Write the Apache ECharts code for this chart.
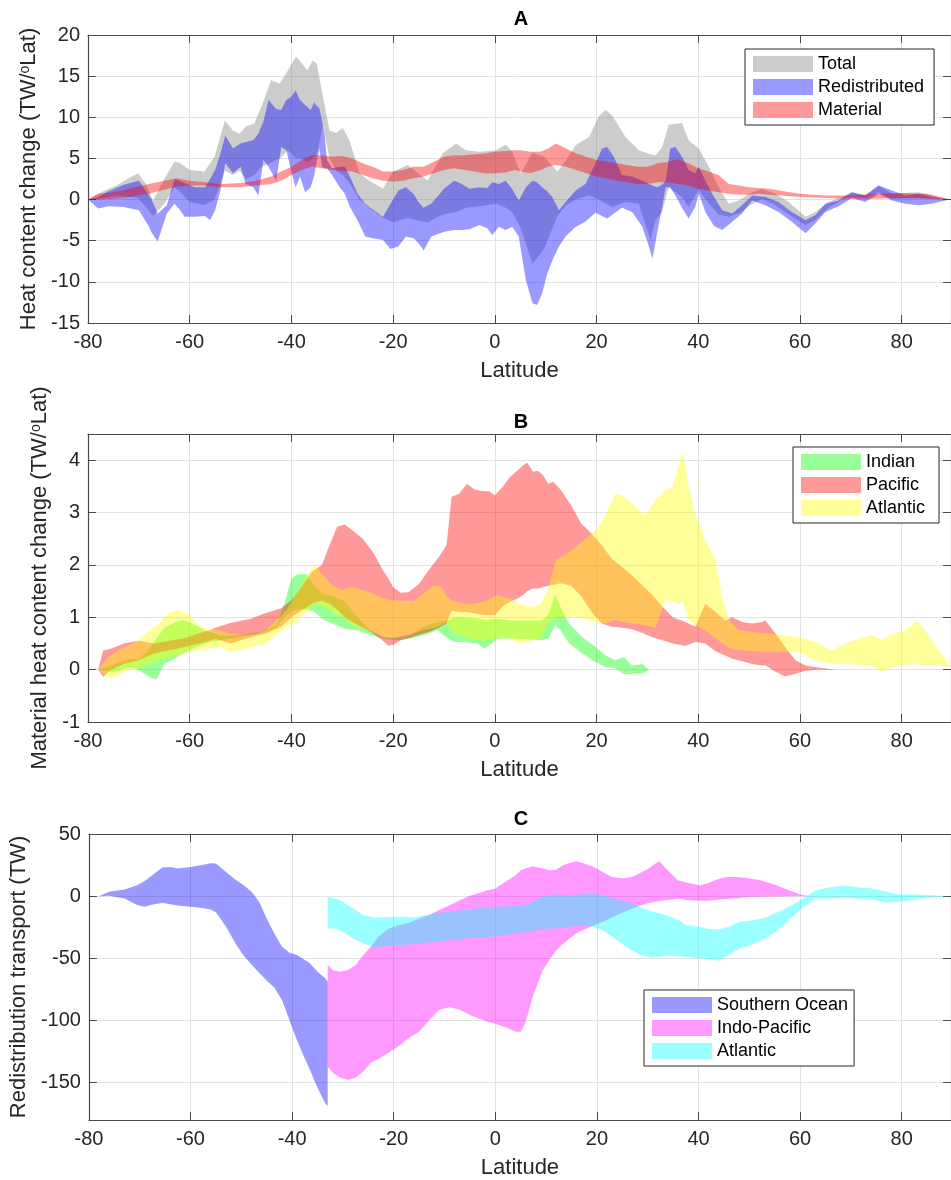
<!DOCTYPE html>
<html>
<head>
<meta charset="utf-8">
<script src="https://cdn.jsdelivr.net/npm/echarts@6/dist/echarts.min.js"></script>
<style>
  html, body { margin: 0; padding: 0; background: #fff; }
  #chart { width: 951px; height: 1180px; }
</style>
</head>
<body>
<div id="chart"></div>
<script>
// ---- Panel A: heat content change (TW/degLat) ----
const latTotal = [-80,-77,-74.4,-72,-70.2,-68.5,-67.2,-65,-63,-62,-60,-57.1,-55.1,-53.1,-51.5,-50.2,-48.9,-47.3,-45.9,-44,-42.3,-40.7,-39.1,-38.1,-36.9,-35.8,-35,-33.8,-32.5,-31.2,-29.9,-28.6,-26.6,-24.7,-22,-20,-17.1,-15.5,-13.2,-10.3,-7.6,-5.7,-3,0.2,2.2,3.4,5.1,7.4,9.7,12.3,14,15.9,18.5,20.5,21.8,23.1,25.7,28.3,30.6,31.6,32.9,34.2,36.8,38.1,40.1,42.1,44,46,48,49.9,52.5,55.2,57.8,61.1,63,65.6,68.9,70.2,72.8,75.4,78.1,83.3,89.5];
const totalHi = [0,1.0,1.7,2.6,3.2,1.8,-0.1,2.5,4.6,4.5,3.6,3.4,5.2,9.6,8.4,8.0,8.9,9.2,11.3,14.5,14.1,15.7,17.4,16.7,15.7,16.9,16.5,12.5,8.4,8.1,8.7,7.2,3.2,2.3,1.3,3.4,4.2,3.4,2.3,5.6,6.8,6.0,5.8,6.0,6.7,5.8,3.2,5.7,5.2,3.4,4.8,6.6,7.6,10.2,10.9,10.2,7.6,6.0,5.5,5.4,6.4,9.1,9.3,7.2,6.2,4.0,1.5,-0.5,-0.1,0.7,1.3,0.7,-0.3,-2.1,-1.5,-0.3,0.5,0.9,0.5,1.7,0.7,0.9,0];
const totalLo = [0,0.2,0.5,0.3,0.2,-1.0,-2.0,-0.5,1.5,1.0,-0.3,-0.7,0.0,3.5,3.0,3.5,2.5,3.0,4.0,4.5,5.0,6.0,5.0,5.0,4.5,5.0,5.5,9.0,5.0,3.5,3.0,2.0,0.0,-1.0,-2.2,-2.8,-2.2,-2.5,-2.8,-1.8,-1.5,-1.0,-0.8,-0.5,-1.0,-1.5,-3.5,-7.8,-6.0,-2.0,-0.7,0.0,0.5,0.0,-0.5,-0.9,-0.3,-0.5,-4.9,-2.5,-1.5,1.5,0.3,-0.9,1.2,-0.5,-1.8,-2.1,-1.7,-0.8,0.1,-0.7,-1.8,-3.1,-2.5,-1.0,0.2,0.4,0.2,0.9,0.1,0.2,0];

const latRedis = [-80,-78,-76,-73,-70,-68,-67.5,-66.3,-64.5,-63,-62,-61,-59,-57,-56,-55,-54,-53,-51.5,-50,-49,-47.5,-46.5,-45.5,-44.5,-43,-42,-41,-40,-39.2,-38.3,-37.3,-36.2,-35.5,-35.2,-34.5,-34,-33.5,-33,-32,-30.5,-29.5,-28.5,-27,-25.5,-24,-22,-20.5,-19,-17.5,-16,-15,-14,-12.5,-10,-8,-6.5,-5,-3,-1.5,-0.5,0.8,2.1,3.4,4.7,6.1,7.4,8.3,9.3,10.3,11.3,12.6,13.9,15.9,17.8,19.8,21.1,22.1,23.4,25,27,29,30.3,31,31.9,32.9,33.6,34.5,35.5,36.8,38.1,39.4,40.1,41.4,43.1,44.7,46.7,48.6,50.6,53.2,55.8,58.4,61.1,63,65,67.6,70.2,72.8,75.5,78.1,80.7,83.3,85.9,89.5];
const redisHi = [0,0.3,1.0,1.8,2.3,0.5,0,-1.7,-0.7,2.5,2.3,2.0,1.5,1.5,2.5,3.6,5.5,7.8,6.2,6.8,7.0,7.2,8.0,9.5,12.1,11.0,10.9,12.1,12.5,13.3,12.1,11.5,10.9,11.9,11.5,11.1,9.6,8.0,4.8,3.8,4.0,4.0,2.8,0.7,-0.5,-1.2,-2.1,-0.5,1.1,1.5,0.7,-0.3,-1.0,-0.5,1.3,2.3,1.9,1.3,1.5,1.4,2.1,1.9,2.3,1.3,-0.1,1.5,2.3,2.1,1.5,1.0,0.3,-1.3,-0.3,1.1,1.9,4.4,6.2,6.4,5.2,3.0,2.8,2.3,1.9,1.7,1.5,1.8,2.3,6.2,6.4,5.2,3.6,3.2,4.0,2.3,0.3,-1.3,-1.7,-0.7,0.5,0.3,-0.3,-1.5,-2.5,-1.9,-0.5,-0.1,0.9,0.5,1.7,1.1,0.5,0.7,0.3,0];
const redisLo = [0,-1.1,-0.8,-0.9,-1.3,-3.3,-4.0,-5.1,-1.7,-0.5,-1.2,-2.1,-2.1,-2.0,-2.5,-1.3,1.0,4.4,3.2,4.0,1.9,1.5,0.5,4.8,4.0,2.3,6.4,6.0,3.4,1.5,2.8,0.9,1.5,3.0,4.0,6.2,4.0,3.8,3.8,3.0,1.5,0.7,-0.9,-2.5,-4.5,-4.7,-4.9,-6.0,-5.7,-4.5,-4.7,-5.3,-6.2,-4.5,-3.9,-3.7,-3.7,-3.6,-3.1,-3.5,-4.3,-3.3,-3.7,-3.3,-4.5,-9.8,-12.6,-12.8,-11.4,-9.0,-7.4,-5.7,-4.5,-3.3,-2.7,-1.6,-2.0,-2.3,-1.7,-1.0,-1.5,-3.3,-5.7,-7.2,-4.1,-0.9,1.5,1.5,0.5,-1.0,-2.3,-0.9,0.7,-1.5,-3.2,-3.7,-2.7,-1.7,-0.1,-0.7,-1.5,-2.7,-4.1,-2.9,-1.5,-0.8,0.2,-0.3,0.7,-0.1,-0.5,-0.7,-0.5,0];

const latMaterial = [-80,-78,-75,-72,-68,-65,-62.5,-60,-57,-54,-50,-47,-44,-42,-40,-38,-36,-34,-32,-30,-28,-26,-24,-22,-20,-18,-16,-14,-12,-10,-8,-6,-4,-2,0,2,4,5,7,9,10.5,12,14,16,18,20,22,24,26,28,30,32,34,36,38,40,42,44,46,48,50,52,54,56,58,60,65,70,75,80,85,89.5];
const materialHi = [0,0.7,0.9,1.3,1.9,2.3,2.6,2.3,2.1,1.9,2.0,2.3,2.8,3.4,4.0,4.8,5.4,5.4,5.2,5.3,5.0,4.4,4.0,3.4,3.4,3.6,4.0,4.0,4.6,5.2,5.4,5.4,5.5,5.6,5.8,5.9,6.0,6.0,5.8,5.8,6.2,6.8,6.2,5.6,5.2,4.8,4.6,4.4,4.2,4.0,4.0,4.4,4.6,4.9,4.4,3.8,3.4,3.0,1.9,1.7,1.5,1.4,1.3,1.1,0.9,0.7,0.5,0.5,0.7,0.8,0.7,0];
const materialLo = [0,0,0.1,0.3,0.7,1.2,1.6,1.7,1.7,1.5,1.5,1.7,1.9,2.3,3.0,3.6,4.0,3.8,3.6,3.5,3.4,3.0,2.6,2.3,2.2,2.3,2.6,2.8,3.2,3.6,3.8,3.6,3.4,3.2,3.2,3.3,3.6,3.4,3.2,3.6,4.0,4.2,4.0,3.6,3.2,2.8,2.6,2.3,2.1,1.9,1.9,2.1,2.1,1.9,1.7,1.3,1.1,0.9,0.7,0.6,0.6,0.7,0.6,0.5,0.4,0.3,0.2,0.1,0.1,0.2,0.1,0];

// ---- Panel B: material heat content change by basin ----
const latIndian = [-78,-75,-72,-70,-68,-66.5,-65,-63,-61.5,-60,-57,-54,-50,-46,-43,-41.4,-40,-38.8,-37,-35.5,-34,-32,-29.5,-27,-24.5,-21.7,-19,-16.5,-14,-11.3,-9.3,-8,-6,-3.4,-2,0.5,3.4,6.1,9.3,10.6,11.9,12.9,14.6,17.2,19.8,21.8,23.7,25.4,27,29,30.3];
const indianHi = [0,0.1,0.2,0.2,0.4,0.6,0.8,0.9,0.95,0.9,0.75,0.65,0.66,0.72,0.85,1.26,1.74,1.82,1.82,1.6,1.45,1.4,1.3,1.0,0.75,0.62,0.62,0.66,0.82,0.91,0.94,1.0,1.0,0.98,0.95,0.97,0.94,0.94,0.94,1.07,1.45,1.2,0.88,0.62,0.43,0.27,0.18,0.24,0.08,0.11,0];
const indianLo = [0,-0.05,0.05,0.0,-0.14,-0.19,0.11,0.21,0.3,0.37,0.5,0.56,0.62,0.69,0.8,1.0,1.1,1.15,1.15,1.1,0.97,0.88,0.78,0.75,0.66,0.59,0.56,0.6,0.65,0.75,0.6,0.53,0.53,0.5,0.4,0.59,0.6,0.58,0.56,0.6,0.85,0.75,0.5,0.31,0.14,0.05,0.02,-0.09,-0.08,-0.08,0];

const latPacific = [-78,-77,-75.5,-73,-70,-67,-64,-61,-58,-56,-55,-52,-48,-45,-42,-40,-38,-36,-34,-32.5,-31,-29.5,-28,-26,-24,-22,-21,-20,-18.5,-17,-15,-13,-11,-9.5,-8.5,-7,-5.5,-4,-2.5,-1,0,1.5,3,4.5,5.5,6.4,7.5,8.5,9.5,10.5,11.5,13,15,17,19,21,23,25,27,29,31,33,35,37.5,39.4,41.4,43.4,45.3,46.7,48.6,50.6,52.5,53.2,55.2,57.1,59.1,61.1,63.7,67];
const pacificHi = [0,0.37,0.4,0.5,0.55,0.5,0.55,0.6,0.7,0.75,0.8,0.89,0.97,1.08,1.17,1.32,1.58,1.87,2.0,2.38,2.73,2.77,2.66,2.5,2.25,1.9,1.75,1.58,1.47,1.48,1.63,1.9,2.15,2.38,3.3,3.36,3.55,3.44,3.41,3.4,3.33,3.49,3.68,3.81,3.9,3.95,3.78,3.8,3.71,3.55,3.59,3.43,3.14,2.79,2.6,2.38,2.12,1.96,1.8,1.61,1.42,1.2,1.0,0.91,0.82,1.26,1.1,0.94,1.0,0.91,0.88,0.91,0.94,0.69,0.43,0.18,0.08,0.04,0];
const pacificLo = [0,-0.14,0,0.11,0.18,0.31,0.37,0.43,0.5,0.55,0.59,0.5,0.62,0.69,0.82,1.0,1.13,1.26,1.32,1.26,1.15,1.0,0.91,0.8,0.7,0.55,0.46,0.47,0.56,0.6,0.66,0.72,0.8,0.88,1.13,1.1,1.1,1.07,1.05,1.04,1.04,1.2,1.3,1.36,1.42,1.5,1.55,1.55,1.58,1.6,1.62,1.65,1.6,1.4,1.1,0.88,0.82,0.8,0.77,0.7,0.62,0.56,0.5,0.45,0.53,0.5,0.35,0.27,0.21,0.16,0.11,0.08,0.08,-0.04,-0.13,-0.08,-0.02,0,0];

const latAtlMat = [-78,-76,-74,-72,-70,-68,-66,-64,-62,-60,-58,-56,-54,-52,-50,-47,-45,-43,-41,-39,-37,-35.5,-34,-32,-30,-28,-26,-24,-22,-20,-18,-16,-14,-12,-10.5,-9.5,-8,-5,-2,0.5,3,5,7,9,10.5,12,14,16,18.2,19.8,21.5,23.7,25,27,29.6,31.6,33.6,34.9,36.2,37,38.1,39.4,41.4,43.4,44.7,46,48,50.6,53.2,56.5,59.7,63,66.3,68.9,71.5,74.2,76.1,78.1,80,82,83,84.6,87.3,89.5];
const atlMatHi = [0,0.24,0.37,0.46,0.56,0.75,0.88,1.1,1.13,1.04,0.82,0.76,0.75,0.69,0.66,0.68,0.75,0.94,1.13,1.45,1.8,2.0,1.83,1.61,1.52,1.58,1.52,1.45,1.36,1.32,1.32,1.3,1.45,1.61,1.58,1.39,1.3,1.25,1.3,1.42,1.35,1.25,1.2,1.25,1.55,2.1,2.2,2.35,2.53,2.66,2.9,3.36,3.33,3.17,2.95,3.24,3.43,3.49,3.94,4.16,3.49,2.98,2.47,2.09,1.39,0.94,0.75,0.72,0.69,0.66,0.62,0.53,0.37,0.5,0.59,0.66,0.56,0.69,0.72,0.85,0.94,0.75,0.37,0.1];
const atlMatLo = [0,-0.17,-0.11,0,0.02,0.11,0.18,0.24,0.27,0.34,0.37,0.4,0.43,0.34,0.37,0.45,0.5,0.66,0.82,0.91,1.1,1.26,1.23,1.1,1.0,0.85,0.78,0.72,0.62,0.6,0.65,0.7,0.75,0.8,0.85,0.9,0.7,0.6,0.55,0.6,0.6,0.5,0.55,0.6,0.9,1.0,1.0,1.0,0.95,0.91,0.88,0.95,0.92,0.88,0.85,0.8,1.35,1.3,1.25,1.3,0.95,0.85,0.75,0.6,0.5,0.42,0.37,0.35,0.34,0.34,0.33,0.18,0.11,0.11,0.1,0.08,-0.05,0.05,0.08,0.11,0.11,0.08,0.08,0.05];

// ---- Panel C: redistribution transport (TW) ----
const latSouthern = [-78,-76,-73,-70.5,-69,-67,-65.5,-64,-62.5,-60,-58,-56,-55,-53,-51,-49.5,-48,-46.5,-45,-43.5,-42,-40.5,-39,-37.5,-36.5,-35,-33.5,-33];
const southernHi = [0,3.5,5.3,8.8,12.3,18.7,23,23.5,22.2,23.5,24.9,26.5,26.2,19.5,12.8,8.8,3.5,-4.5,-17.9,-30,-40.6,-45.5,-47.3,-51.3,-54,-60.7,-66,-68.7];
const southernLo = [0,0.3,-1.9,-7,-8.5,-6.2,-5.5,-6.4,-7.6,-8.6,-9.4,-10.7,-13,-24.6,-39,-48,-55,-61.5,-68,-73.5,-83.4,-100,-116.5,-130.5,-139.6,-154.3,-166.5,-169];

const latIndoPac = [-33,-32,-30.5,-29,-27.5,-26,-24.5,-23,-21,-19,-17,-15,-13,-11,-9,-7,-5,-3,-1.5,0,2,4,5,5.9,7.4,9.3,10.6,11.9,13.3,14.6,15.9,17.2,19.1,21.1,23,25,26.9,28.9,30.2,31.5,32.3,33.3,34.6,35.9,37.8,40.2,41.7,43.6,45.6,47.6,49.5,52.2,54.8,57.4,60.1,62];
const indoPacHi = [-55.3,-59.4,-60.7,-59.4,-55.3,-47.3,-40.6,-32.6,-26,-23.3,-21.4,-17.9,-15.2,-11.2,-7.2,-3.2,0.3,2.7,4.8,6.1,11.5,16.8,20.9,22.2,24,22.2,20.9,21,24.9,26.7,28,26.7,24,19.5,15.5,14.2,15.5,19.5,22.2,26.2,28,23.5,18.2,12.8,10.7,8.8,10.2,13.4,15.5,15.5,14.7,12.8,9.6,5.3,1.3,0];
const indoPacLo = [-137,-142,-146,-147.6,-146,-141,-134,-131,-126,-120.5,-114,-109,-99.5,-91.4,-89.3,-91.4,-95.5,-98.7,-101,-102.5,-105.5,-109,-109,-102,-80.7,-60,-51.3,-44,-38.5,-34,-30,-27.5,-24,-20.8,-17,-13.4,-10,-7,-5.4,-4.5,-4,-3.3,-2.7,-2,-3,-3.7,-3.6,-2.8,-2.2,-1.6,-0.7,-0.4,-0.2,-0.1,0,0];

const latAtlTr = [-33,-31.5,-30,-28,-26,-24,-22,-20,-18,-16,-12,-8.7,-5.4,-2.1,0.8,4.7,6.7,9.3,11.9,14.6,17.2,19.1,21.1,23,25.7,28.3,30.9,33.6,36.2,37.5,40.1,42.1,44,46,48,50.6,53.2,55.8,58.4,61.1,63,65.6,68.9,71.5,74.2,76.8,79.4,82.7,85.9,89.5];
const atlTrHi = [-0.5,-1.9,-4.5,-9.9,-15.2,-17.1,-17.1,-16.6,-16.6,-17.1,-13.9,-12.6,-10.7,-9.4,-8.6,-8,-5.9,-0.5,1.3,0.8,1.3,2.1,0.8,-1.9,-4.5,-8.6,-12.6,-15.2,-19.3,-23.3,-24.6,-26.7,-26.7,-24.6,-20.6,-19.3,-17.1,-12.6,-7.2,-0.5,4.3,7,8.6,7,6.1,3.5,1.3,1.3,0.8,0];
const atlTrLo = [-26,-26,-28.6,-34,-38,-40.6,-40.6,-39.3,-39.3,-38.5,-36.6,-35.2,-33.8,-33,-31.8,-29.8,-28.4,-26.7,-26,-24.6,-23.8,-24.6,-27.3,-32.6,-40.5,-47,-49.5,-48,-48.3,-49,-50,-50.5,-51.9,-47.3,-42,-39,-34,-27,-17,-7.2,-2.1,-2.1,-1.1,-2.1,-2.7,-5.3,-4.5,-2.7,-0.8,0];

// axis ticks
const latTicks = { min: -80, max: 89.7, interval: 20 };
const transportTicks = [-150, -100, -50, 0, 50];

const FONT = '"Liberation Sans", Arial, Helvetica, sans-serif';
const INK = '#262626';
const FRAME = '#4a4a4a';

const chart = echarts.init(document.getElementById('chart'));

const grids = [
  { left: 88, top: 35, width: 865, height: 288 },
  { left: 88, top: 434, width: 865, height: 288 },
  { left: 88, top: 834, width: 865, height: 288 }
];

const frameLine = { show: true, onZero: false, lineStyle: { color: FRAME, width: 1.2 } };
const innerTick = { show: true, inside: true, length: 8, lineStyle: { color: FRAME, width: 1 } };
const tickLabel = { fontSize: 20, color: INK, fontFamily: FONT, margin: 8 };
const nameStyle = {
  fontSize: 22, color: INK, fontFamily: FONT,
  rich: { sup: { fontSize: 14, color: INK, fontFamily: FONT, verticalAlign: 'top', lineHeight: 23 } }
};

const xAxes = [];
const yAxes = [];
function addAxes(g, yCfg, yName, nameGap) {
  xAxes.push({
    gridIndex: g, type: 'value', position: 'bottom', ...latTicks,
    name: 'Latitude', nameLocation: 'middle', nameGap: 37, nameTextStyle: nameStyle,
    axisLine: frameLine, axisTick: innerTick,
    axisLabel: { ...tickLabel, margin: 9, showMaxLabel: false },
    splitLine: { show: true, lineStyle: { color: '#e2e2e2', width: 1 } }
  });
  xAxes.push({
    gridIndex: g, type: 'value', position: 'top', ...latTicks,
    axisLine: frameLine, axisTick: innerTick, axisLabel: { show: false }, splitLine: { show: false }
  });
  const yTick = { ...innerTick };
  const yLabel = { ...tickLabel, showMaxLabel: yCfg.showMax };
  if (yCfg.custom) {
    yTick.customValues = yCfg.custom;
    yLabel.customValues = yCfg.custom;
  }
  yAxes.push({
    gridIndex: g, type: 'value', position: 'left', min: yCfg.min, max: yCfg.max, interval: yCfg.interval,
    name: yName, nameLocation: 'middle', nameGap: nameGap, nameTextStyle: nameStyle,
    axisLine: frameLine, axisTick: yTick, axisLabel: yLabel,
    splitLine: { show: true, lineStyle: { color: '#e2e2e2', width: 1 } }
  });
  yAxes.push({
    gridIndex: g, type: 'value', position: 'right', min: yCfg.min, max: yCfg.max, interval: yCfg.interval,
    axisLine: frameLine, axisTick: yTick, axisLabel: { show: false }, splitLine: { show: false }
  });
}
addAxes(0, { min: -15, max: 20, interval: 5, showMax: true }, 'Heat content change (TW/{sup|o}Lat)', 45);
addAxes(1, { min: -1, max: 4.5, interval: 1, showMax: false }, 'Material heat content change (TW/{sup|o}Lat)', 34);
addAxes(2, { min: -180, max: 50, interval: 10, custom: transportTicks, showMax: true }, 'Redistribution transport (TW)', 57);

// one filled polygon per band, upper edge forward then lower edge back
function band(name, color, g, lat, lo, hi) {
  return {
    type: 'custom', name: name, xAxisIndex: g * 2, yAxisIndex: g * 2,
    silent: true, animation: false,
    itemStyle: { color: color },
    data: lat.map((x, i) => [x, lo[i], hi[i]]),
    encode: { x: 0, y: [1, 2] },
    renderItem(params, api) {
      if (params.dataIndex !== 0) return null;
      const upper = lat.map((x, i) => api.coord([x, hi[i]]));
      const lower = lat.map((x, i) => api.coord([x, lo[i]])).reverse();
      return { type: 'polygon', shape: { points: upper.concat(lower) }, style: { fill: color } };
    }
  };
}

const series = [
  band('Total', 'rgba(128,128,128,0.4)', 0, latTotal, totalLo, totalHi),
  band('Redistributed', 'rgba(0,0,255,0.4)', 0, latRedis, redisLo, redisHi),
  band('Material', 'rgba(255,0,0,0.4)', 0, latMaterial, materialLo, materialHi),
  band('Indian', 'rgba(0,255,0,0.4)', 1, latIndian, indianLo, indianHi),
  band('Pacific', 'rgba(255,0,0,0.4)', 1, latPacific, pacificLo, pacificHi),
  band('Atlantic MHC', 'rgba(255,255,0,0.4)', 1, latAtlMat, atlMatLo, atlMatHi),
  band('Southern Ocean', 'rgba(0,0,255,0.4)', 2, latSouthern, southernLo, southernHi),
  band('Indo-Pacific', 'rgba(255,0,255,0.4)', 2, latIndoPac, indoPacLo, indoPacHi),
  band('Atlantic transport', 'rgba(0,255,255,0.4)', 2, latAtlTr, atlTrLo, atlTrHi)
];

const legendLabel = { 'Atlantic MHC': 'Atlantic', 'Atlantic transport': 'Atlantic' };
function legendBox(names, left, top, padRight) {
  return {
    data: names, orient: 'vertical', left: left, top: top,
    icon: 'rect', itemWidth: 60, itemHeight: 16, itemGap: 5,
    padding: [6, padRight, 6, 8],
    borderColor: INK, borderWidth: 1, backgroundColor: '#fff',
    selectedMode: false,
    formatter: n => legendLabel[n] || n,
    textStyle: { fontSize: 18, color: '#000', fontFamily: FONT }
  };
}

function panelTitle(text, top) {
  return {
    text: text, left: 521, top: top, textAlign: 'center', padding: 0,
    textStyle: { fontSize: 20, fontWeight: 'bold', color: '#000', fontFamily: FONT }
  };
}

chart.setOption({
  animation: false,
  title: [panelTitle('A', 9), panelTitle('B', 412), panelTitle('C', 809)],
  legend: [
    legendBox(['Total', 'Redistributed', 'Material'], 745, 49, 10),
    legendBox(['Indian', 'Pacific', 'Atlantic MHC'], 793, 447, 14),
    legendBox(['Southern Ocean', 'Indo-Pacific', 'Atlantic transport'], 644, 990, 6)
  ],
  grid: grids,
  xAxis: xAxes,
  yAxis: yAxes,
  series: series
});
</script>
</body>
</html>
